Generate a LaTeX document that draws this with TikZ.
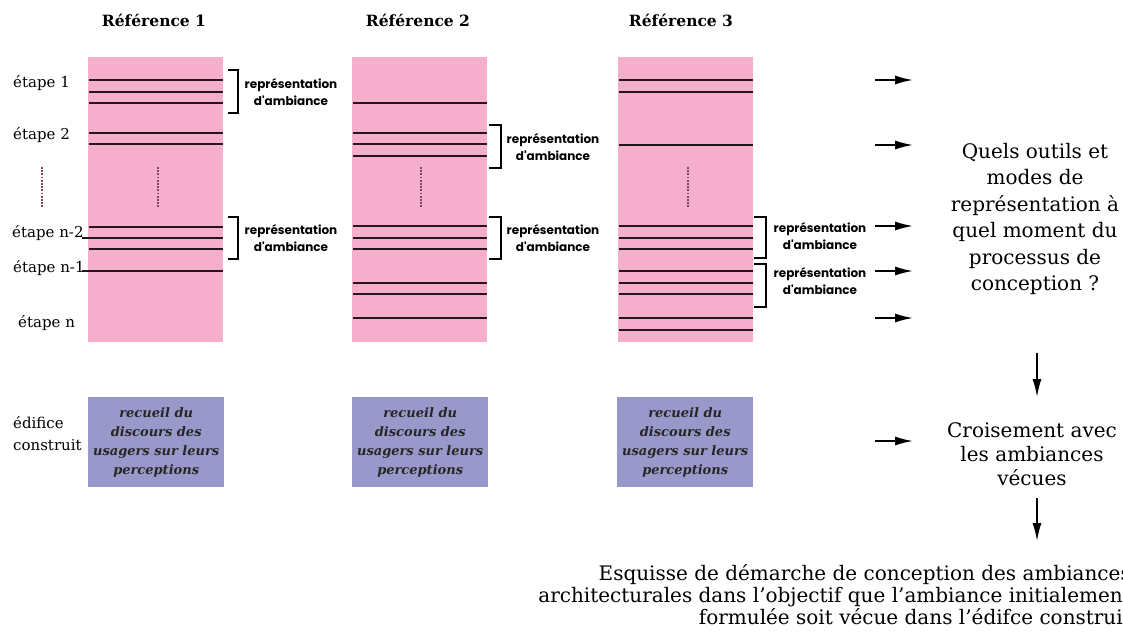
\documentclass[tikz,border=0pt]{standalone}
\usepackage{fontspec}
\setmainfont{DejaVu Serif}
\newfontfamily\gothic{Poppins}
\usetikzlibrary{arrows.meta}
\definecolor{pinkbg}{RGB}{245,174,203}
\definecolor{bluebox}{RGB}{152,152,202}
\definecolor{stroke}{RGB}{35,20,30}
\definecolor{dotcol}{RGB}{125,70,100}
\begin{document}
\begin{tikzpicture}[x=1pt,y=-1pt,
  pinkcol/.style={fill=pinkbg, draw=none, minimum width=135pt, minimum height=285pt, anchor=north west, inner sep=0},
  bluecol/.style={fill=bluebox, draw=none, minimum width=136pt, minimum height=90pt, anchor=north west, inner sep=0, align=center,
     font=\bfseries\itshape\fontsize{13}{19}\selectfont, text=black!85},
  stageline/.style={line width=2pt, draw=stroke},
  brk/.style={line width=1.5pt, draw=black},
  dotline/.style={line width=1.8pt, draw=dotcol, dash pattern=on 1.8pt off 1.4pt},
  reptext/.style={font=\gothic\bfseries\fontsize{12}{17}\selectfont, align=center, inner sep=0},
  header/.style={font=\bfseries\fontsize{15.5}{18}\selectfont, inner sep=0},
  stagelabel/.style={font=\fontsize{15}{18}\selectfont, anchor=west, inner sep=0},
  bigtext/.style={font=\fontsize{20}{26.5}\selectfont, align=center, inner sep=0},
  flow/.style={-{Latex[length=18pt,width=9pt]}, line width=1.6pt}]
\useasboundingbox (0,0) rectangle (1123,637);
\clip (0,0) rectangle (1123,637);

% headers
\node[header] (h1) at (154,20) {Référence 1};
\node[header] (h2) at (418,20) {Référence 2};
\node[header] (h3) at (681,20) {Référence 3};

% pink columns
\node[pinkcol] (c1) at (88,57) {};
\node[pinkcol] (c2) at (352,57) {};
\node[pinkcol] (c3) at (618,57) {};

% stage lines column 1
\foreach \y in {80,92,103,133,144,227,249}
  \draw[stageline] (89,\y) -- (223,\y);
\foreach \y in {238,271}
  \draw[stageline] (82,\y) -- (223,\y);
% column 2
\foreach \y in {103,133,144,156,226,238,249,283,294,318}
  \draw[stageline] (353,\y) -- (487,\y);
% column 3
\foreach \y in {80,92,145,226,238,249,271,283,294,318,330}
  \draw[stageline] (619,\y) -- (753,\y);

% dotted verticals
\draw[dotline] (42,167) -- (42,207);
\draw[dotline] (158,167) -- (158,207);
\draw[dotline] (421,167) -- (421,207);
\draw[dotline] (688,167) -- (688,207);

% stage labels
\node[stagelabel] (e1) at (13,83) {étape 1};
\node[stagelabel] (e2) at (13,135) {étape 2};
\node[stagelabel] (e3) at (12,233) {étape n-2};
\node[stagelabel] (e4) at (13,268) {étape n-1};
\node[stagelabel] (e5) at (18,323) {étape n};

% brackets column 1
\draw[brk] (228,70) -- (238,70) -- (238,113) -- (228,113);
\draw[brk] (228,217) -- (238,217) -- (238,259) -- (228,259);
\node[reptext] (r11) at (291,92) {représentation\\d'ambiance};
\node[reptext] (r12) at (291,238) {représentation\\d'ambiance};
% column 2
\draw[brk] (489,125) -- (501,125) -- (501,168) -- (489,168);
\draw[brk] (489,217) -- (501,217) -- (501,259) -- (489,259);
\node[reptext] (r21) at (553,147) {représentation\\d'ambiance};
\node[reptext] (r22) at (553,238) {représentation\\d'ambiance};
% column 3
\draw[brk] (754,217) -- (766,217) -- (766,258) -- (754,258);
\draw[brk] (754,264) -- (766,264) -- (766,307) -- (754,307);
\node[reptext] (r31) at (820,236) {représentation\\d'ambiance};
\node[reptext] (r32) at (820,281) {représentation\\d'ambiance};

% arrows to question
\foreach \i/\y in {1/80,2/145,3/226,4/271,5/318}{
  \coordinate (as\i) at (875,\y);
  \coordinate (ae\i) at (913,\y);
  \draw[flow] (as\i) -- (ae\i);
}

% question text
\node[bigtext] (q) at (1035,219) {Quels outils et\\modes de\\représentation à\\quel moment du\\processus de\\conception ?};

% building row
\node[font=\fontsize{15}{22}\selectfont, align=left, anchor=west, inner sep=0] (ed) at (13,434) {édifice\\construit};
\node[bluecol] (b1) at (88,397) {recueil du\\discours des\\usagers sur leurs\\perceptions};
\node[bluecol] (b2) at (352,397) {recueil du\\discours des\\usagers sur leurs\\perceptions};
\node[bluecol] (b3) at (617,397) {recueil du\\discours des\\usagers sur leurs\\perceptions};

\node[font=\fontsize{20}{24}\selectfont, align=center, inner sep=0] (cr) at (1032,454) {Croisement avec\\les ambiances\\vécues};
\coordinate (bs) at (875,441);
\coordinate (be) at (913,441);
\draw[flow] (bs) -- (be);

\coordinate (v1s) at (1037,353);
\coordinate (v1e) at (1037,397);
\draw[flow] (v1s) -- (v1e);
\coordinate (v2s) at (1037,498);
\coordinate (v2e) at (1037,541);
\draw[flow] (v2s) -- (v2e);

\node[font=\fontsize{20}{22}\selectfont, align=right, anchor=east, inner sep=0] (fin) at (1131,595)
  {Esquisse de démarche de conception des ambiances\\architecturales dans l’objectif que l’ambiance initialement\\formulée soit vécue dans l’édifce construit};
\end{tikzpicture}
\end{document}
